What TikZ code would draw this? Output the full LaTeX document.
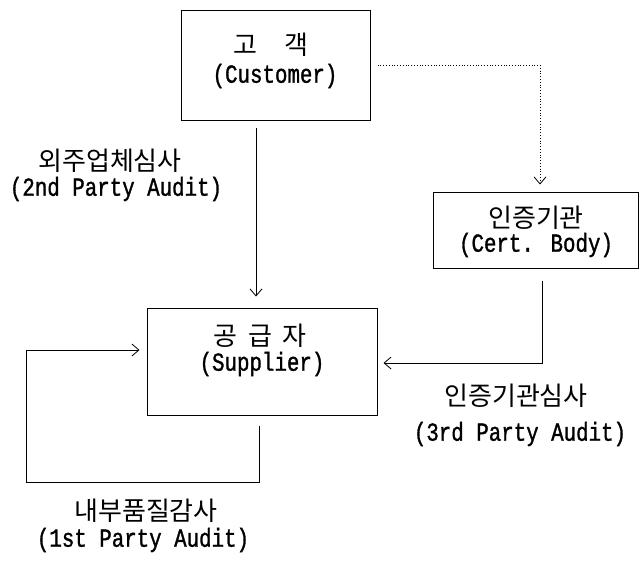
\documentclass[tikz,border=0pt]{standalone}
\usepackage{fontspec}
\setmainfont{Liberation Mono}[FakeStretch=0.8,FakeBold=1.2]
\newfontfamily\kr{Noto Sans CJK KR}
\usetikzlibrary{arrows.meta}
\begin{document}
\begin{tikzpicture}[x=1pt,y=-1pt,
  lat/.style={inner sep=0pt,font=\fontsize{26}{28}\selectfont},
  ko/.style={inner sep=0pt,font=\kr\fontsize{26}{28}\selectfont},
  box/.style={draw,line width=1pt,inner sep=0pt},
  conn/.style={line width=0.8pt,-{Straight Barb[length=7pt,width=12pt]}},
  dotconn/.style={conn,dotted}]
\useasboundingbox (0,0) rectangle (644,566);
% boxes
\node[box,minimum width=189pt,minimum height=110pt] (cust) at (275.5,65) {};
\node[box,minimum width=205pt,minimum height=76pt] (cert) at (535.5,230) {};
\node[box,minimum width=230pt,minimum height=107pt] (sup) at (262,361.5) {};
% box texts
\node[ko] (custk) at (271,45) {고\hspace{1.05em}객};
\node[lat] (custe) at (275,76) {(Customer)};
\node[ko] (certk) at (536,218) {인증기관};
\node[lat] (certe) at (536,245) {(Cert. Body)};
\node[ko] (supk) at (260,336) {공\hspace{0.4em}급\hspace{0.4em}자};
\node[lat] (supe) at (262,364) {(Supplier)};
% labels
\node[ko] (l2k) at (110,161) {외주업체심사};
\node[lat] (l2e) at (116,189) {(2nd Party Audit)};
\node[ko] (l3k) at (516,396) {인증기관심사};
\node[lat] (l3e) at (520,434) {(3rd Party Audit)};
\node[ko] (l1k) at (146,511) {내부품질감사};
\node[lat] (l1e) at (143,540) {(1st Party Audit)};
% connectors
\draw[conn,shorten <=7pt,shorten >=11pt] ([xshift=-19.5pt]cust.south) -- ([xshift=-6pt]sup.north);
\draw[dotconn,shorten <=7pt,shorten >=7pt] (cust.east) -| ([xshift=4.5pt]cert.north);
\draw[conn,shorten <=12pt,shorten >=6pt] ([xshift=6.5pt]cert.south) |- ([yshift=-1.5pt]sup.east);
\coordinate (lb) at (26,482);
\coordinate (lt) at (26,350);
\draw[conn,shorten <=10pt,shorten >=7pt] ([xshift=-3pt]sup.south) |- (lb) -- (lt) -- (sup.west |- lt);
\end{tikzpicture}
\end{document}
